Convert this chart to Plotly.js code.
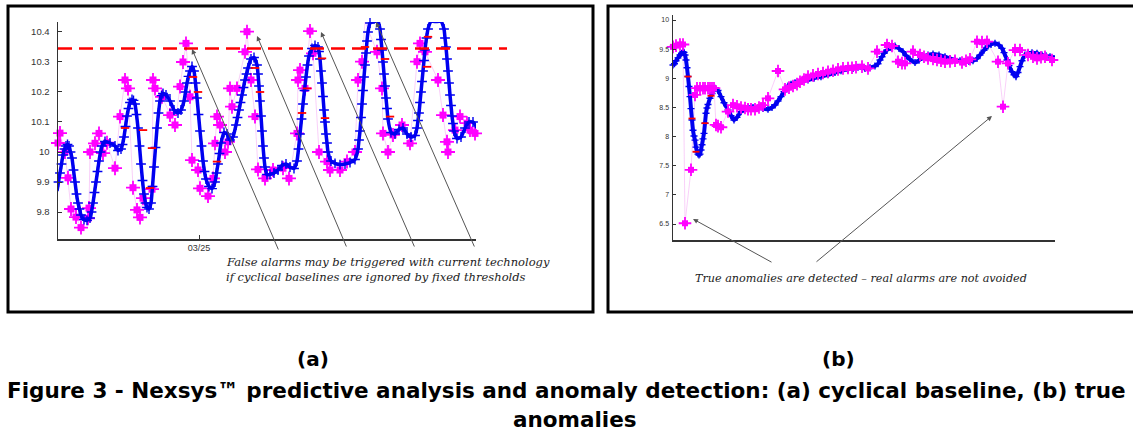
<!DOCTYPE html>
<html>
<head>
<meta charset="utf-8">
<script src="https://cdn.plot.ly/plotly-3.0.1.min.js"></script>
<style>html,body{margin:0;padding:0;background:#fff;}#chart{width:1133px;height:436px;}</style>
</head>
<body>
<div id="chart"></div>
<script>
// ---------- Panel (a): cyclical baseline (sample index ~24 min) ----------
const tA_base = [0,1.5,3,4.5,6,7.5,9,10.5,12,13.5,15,16.5,18,19.5,21,22.5,24,27,30,33,34.5,36,37.5,39,40.5,42,43.5,45,48,53,58,61,64,65.5,67,68.5,70,71.5,73,75,76.5,78,79.5,81,82.5,84,85.5,87,88.5,90,92,94,95.5,97,98.5,100,101.5,103,104.5,106,109,113,117,121,124,127,128.5,130,131.5,133,135,137,138.5,140,141.5,143,144.5,146,147.5,149,152,155,158,159.5,161,162.5,164,167,170,173,176,179,180.5,182,183.5,185,186.5,188,189.5,191,194,197,200,201,202,203,204,205,206,207,208,210,213,217,221,225,229,233,237,240,241.5,243,244.5,246,247.5,249,250.5,252,255,258,261,262,263,264,265,266,267,268,269,270,271,274,278,283,288,293,298,301,302,303,304,305,306,307,308,309,310,311,313,317,321,323,324,325,326,327,328,329,330,331,334,338,342,346,350,354,358,360,361,362,363,364,365,366,367,368,369.5,371,374,379,384,387,388,389,390,391,392,393,394,395,396,397,400,404,408,412,416,420];
const vA_base = [9.87,9.90,9.93,9.96,9.99,10.01,10.02,10.025,10.02,10.0,9.98,9.94,9.90,9.86,9.83,9.81,9.79,9.775,9.772,9.78,9.80,9.83,9.865,9.90,9.935,9.97,10.0,10.02,10.035,10.03,10.02,10.005,10.01,10.025,10.05,10.085,10.12,10.145,10.165,10.175,10.172,10.16,10.125,10.08,10.02,9.96,9.905,9.86,9.83,9.815,9.81,9.83,9.885,9.95,10.015,10.08,10.13,10.17,10.188,10.195,10.19,10.17,10.14,10.13,10.14,10.17,10.20,10.23,10.252,10.27,10.285,10.27,10.23,10.18,10.125,10.07,10.02,9.97,9.935,9.91,9.885,9.878,9.90,9.93,9.96,9.995,10.03,10.065,10.06,10.04,10.05,10.09,10.115,10.14,10.165,10.19,10.215,10.24,10.26,10.28,10.31,10.315,10.29,10.26,10.22,10.17,10.12,10.07,10.02,9.98,9.95,9.925,9.925,9.93,9.94,9.955,9.96,9.95,9.945,9.97,10.01,10.06,10.11,10.16,10.205,10.25,10.29,10.32,10.345,10.355,10.35,10.335,10.31,10.27,10.23,10.185,10.14,10.10,10.06,10.03,10.00,9.97,9.962,9.958,9.96,9.965,9.975,10.01,10.04,10.07,10.115,10.16,10.205,10.25,10.29,10.33,10.37,10.40,10.43,10.435,10.435,10.41,10.375,10.34,10.30,10.26,10.22,10.18,10.145,10.11,10.065,10.06,10.075,10.08,10.06,10.05,10.055,10.08,10.105,10.13,10.165,10.20,10.235,10.27,10.305,10.34,10.38,10.41,10.435,10.435,10.435,10.41,10.38,10.35,10.31,10.27,10.23,10.19,10.155,10.12,10.095,10.07,10.045,10.05,10.08,10.10,10.10,10.08];
const tA_obs = [1,3,8,11,14,19,24,31,32,33,38,42,46,50,58,63,68,71,76,80,83,86,95,96,98,105,113,118,123,126,129,133,135,141,143,151,156,158,160,163,168,171,173,175,180,188,190,194,198,201,208,216,226,232,240,241,243,248,253,256,262,270,273,283,290,298,301,305,308,320,325,326,331,336,345,353,360,363,368,381,386,390,391,398,403,410,413,418];
const vA_obs = [10.03,10.063,10.0,9.914,9.81,9.783,9.748,9.779,9.813,10.0,10.029,10.062,9.996,10.031,9.946,10.118,10.24,10.212,9.881,9.807,9.782,9.846,9.876,10.24,10.212,10.184,10.123,10.09,10.218,10.30,10.362,10.184,9.973,9.94,9.879,9.853,9.912,10.029,10.118,10.09,10.0,10.034,10.212,10.151,10.212,10.334,10.401,10.24,10.118,9.942,9.912,9.94,9.946,9.912,10.062,10.24,10.273,10.212,10.403,10.329,10.0,9.968,9.94,9.94,9.968,10.0,10.24,10.301,10.434,10.334,10.212,10.062,10.0,10.057,10.09,10.029,10.301,10.362,10.334,10.24,10.123,10.034,10.0,10.073,10.118,10.096,10.073,10.062];
const tA_red = [68,86,93,95,136,141,160,198,203,245,250,265,268,308,328,333,370,371,388];
const vA_red = [10.08,10.073,9.88,10.013,10.25,10.20,9.968,10.28,10.20,10.13,10.212,10.312,10.113,10.35,10.31,10.118,10.284,10.384,10.345];
const fixedThreshold = 10.345;
const tickA_vals = [142];
const tickA_text = ['03/25'];
const yA_ticks = [9.8,9.9,10,10.1,10.2,10.3,10.4];
const yA_text = ['9.8','9.9','10','10.1','10.2','10.3','10.4'];

// ---------- Panel (b): true anomalies ----------
const tB_base = [0,1.5,3,5,7,8.5,10,11,12,13,14,15,16,17,18,19,20,21,22,23,24,25,26,27,28,29,30,31,32,33,34,35,37,39,42,45,48,51,55,58,61,64,68,71,75,80,85,90,95,99,102,105,108,111,115,118,122,128,135,141,148,155,162,168,175,180,185,192,197,202,205,207,209,211,214,218,222,226,230,233,237,242,246,250,255,260,266,272,277,282,287,292,296,300,304,307,311,315,318,322,326,329,331,334,336,339,341,343,345,347,349,352,355,359,364,369,373,377,383];
const vB_base = [9.228,9.25,9.30,9.35,9.40,9.43,9.457,9.445,9.40,9.314,9.18,9.03,8.86,8.685,8.48,8.285,8.11,8.01,7.94,7.82,7.74,7.70,7.684,7.70,7.77,7.86,7.96,8.056,8.23,8.40,8.49,8.55,8.657,8.74,8.828,8.79,8.685,8.58,8.456,8.36,8.285,8.33,8.427,8.47,8.50,8.50,8.49,8.48,8.468,8.50,8.542,8.61,8.685,8.77,8.868,8.90,8.925,8.95,8.97,9.0,9.028,9.06,9.10,9.13,9.154,9.17,9.19,9.17,9.18,9.21,9.25,9.314,9.37,9.43,9.485,9.53,9.554,9.51,9.457,9.39,9.326,9.27,9.31,9.37,9.40,9.417,9.40,9.37,9.34,9.314,9.30,9.285,9.29,9.30,9.34,9.40,9.48,9.554,9.58,9.60,9.57,9.514,9.44,9.314,9.22,9.113,9.06,9.028,9.10,9.20,9.30,9.40,9.43,9.44,9.43,9.40,9.385,9.37,9.36];
const tB_obs = [0,3,7,10,12,18,22,24,27,30,32,35,37,39,41,43,45,48,55,60,64,68,72,75,78,82,86,90,95,105,112,116,120,124,127,131,135,140,145,150,155,160,165,170,175,179,183,189,195,204,214,219,225,229,232,240,247,251,255,260,264,268,272,277,282,289,293,297,304,309,314,325,330,335,342,347,355,360,364,368,372,379];
const vB_obs = [9.54,9.56,9.58,9.58,6.513,7.43,8.714,8.83,8.828,8.83,8.83,8.83,8.83,8.83,8.83,8.20,8.18,8.16,8.43,8.54,8.52,8.50,8.49,8.47,8.47,8.47,8.50,8.54,8.657,9.125,8.81,8.84,8.868,8.90,8.94,8.98,9.028,9.05,9.074,9.09,9.113,9.13,9.154,9.17,9.177,9.18,9.19,9.20,9.17,9.457,9.571,9.554,9.285,9.26,9.257,9.457,9.40,9.37,9.342,9.33,9.314,9.30,9.285,9.29,9.30,9.27,9.30,9.326,9.628,9.62,9.628,9.285,8.513,9.257,9.485,9.485,9.40,9.37,9.342,9.36,9.37,9.314];
const tB_red = [15,19,23,32,38];
const vB_red = [9.03,8.31,7.74,8.23,8.70];
const yB_ticks = [6.5,7,7.5,8,8.5,9,9.5,10];
const yB_text = ['6.5','7','7.5','8','8.5','9','9.5','10'];

// ---------- Texts ----------
const noteA1 = 'False alarms may be triggered with current technology';
const noteA2 = 'if cyclical baselines are ignored by fixed thresholds';
const noteB = 'True anomalies are detected \u2013 real alarms are not avoided';
const labelA = '(a)', labelB = '(b)';
const caption1 = 'Figure 3 - Nexsys\u2122 predictive analysis and anomaly detection: (a) cyclical baseline, (b) true';
const caption2 = 'anomalies';

const W = 1133, H = 436;
const px = v => v / W, py = v => 1 - v / H;
const BLUE = '#0000f0', MAG = '#ff00ff', PINK = '#f7c4f7', RED = '#ff0000';

function pinkLine(t, v, xa, ya) {
  return {x: t, y: v, xaxis: xa, yaxis: ya, mode: 'lines', line: {color: PINK, width: 0.8}, hoverinfo: 'skip'};
}
function obsMarkers(t, v, xa, ya, sq, cr) {
  return [
    {x: t, y: v, xaxis: xa, yaxis: ya, mode: 'markers', cliponaxis: false,
     marker: {symbol: 'cross-thin', size: cr, line: {color: MAG, width: 1.8}}},
    {x: t, y: v, xaxis: xa, yaxis: ya, mode: 'markers', cliponaxis: false,
     marker: {symbol: 'square', size: sq, color: MAG}}
  ];
}
function baseTrace(t, v, xa, ya, lw, ms) {
  return {x: t, y: v, xaxis: xa, yaxis: ya, mode: 'lines+markers', cliponaxis: false,
    line: {color: BLUE, width: lw, shape: 'spline', smoothing: 0.5},
    marker: {symbol: 'cross-thin', size: ms, line: {color: BLUE, width: 1.4}}};
}
function redTrace(t, v, xa, ya, s) {
  return {x: t, y: v, xaxis: xa, yaxis: ya, mode: 'markers', cliponaxis: false,
    marker: {symbol: 'line-ew', size: s, line: {color: RED, width: 1.8}}};
}

const data = [
  pinkLine(tA_obs, vA_obs, 'x', 'y'),
  ...obsMarkers(tA_obs, vA_obs, 'x', 'y', 7, 10),
  baseTrace(tA_base, vA_base, 'x', 'y', 3.5, 7),
  redTrace(tA_red, vA_red, 'x', 'y', 6),
  pinkLine(tB_obs, vB_obs, 'x2', 'y2'),
  baseTrace(tB_base, vB_base, 'x2', 'y2', 4, 5),
  redTrace(tB_red, vB_red, 'x2', 'y2', 5),
  ...obsMarkers(tB_obs, vB_obs, 'x2', 'y2', 6, 9)
];

const axisCommon = {showgrid: false, zeroline: false, showline: true, linecolor: '#333', linewidth: 1.5, fixedrange: true};

const arrow = (xr, yr, x, y, ax, ay) => ({xref: xr, yref: yr, axref: xr, ayref: yr, x: x, y: y, ax: ax, ay: ay,
  text: '', showarrow: true, arrowhead: 2, arrowsize: 1, arrowwidth: 1, arrowcolor: '#555', standoff: 0});

const serif = {family: 'DejaVu Serif, Liberation Serif, serif', size: 11.5, color: '#222'};
const bold = {family: 'DejaVu Sans, Liberation Sans, Arial, sans-serif', size: 21.5, color: '#000'};

const layout = {
  width: W, height: H, margin: {l: 0, r: 0, t: 0, b: 0},
  paper_bgcolor: '#fff', plot_bgcolor: 'rgba(0,0,0,0)', showlegend: false,
  xaxis: Object.assign({}, axisCommon, {domain: [px(58), px(476)], range: [1, 419], anchor: 'y',
    ticks: 'inside', ticklen: 4, tickcolor: '#333', tickvals: tickA_vals, ticktext: tickA_text,
    tickfont: {family: 'Liberation Sans, Arial', size: 9, color: '#333'}}),
  yaxis: Object.assign({}, axisCommon, {domain: [py(239), py(22)], range: [9.71, 10.4333], anchor: 'x',
    ticks: 'inside', ticklen: 4, tickcolor: '#333', tickvals: yA_ticks, ticktext: yA_text, ticklabelstandoff: 5,
    tickfont: {family: 'Liberation Sans, Arial', size: 9.5, color: '#333'}}),
  xaxis2: Object.assign({}, axisCommon, {domain: [px(673), px(1055)], range: [0, 382], anchor: 'y2',
    ticks: '', showticklabels: false}),
  yaxis2: Object.assign({}, axisCommon, {domain: [py(240), py(15)], range: [6.226, 10.086], anchor: 'x2',
    ticks: 'inside', ticklen: 3, tickcolor: '#333', tickvals: yB_ticks, ticktext: yB_text, ticklabelstandoff: 1,
    tickfont: {family: 'Liberation Sans, Arial', size: 7, color: '#333'}}),
  shapes: [
    {type: 'rect', xref: 'paper', yref: 'paper', x0: px(8), x1: px(593), y0: py(312), y1: py(6),
     line: {color: '#000', width: 3}, layer: 'below'},
    {type: 'rect', xref: 'paper', yref: 'paper', x0: px(608), x1: px(1145), y0: py(312), y1: py(6),
     line: {color: '#000', width: 3}, layer: 'below'},
    {type: 'line', xref: 'paper', yref: 'y', x0: px(58), x1: px(507), y0: fixedThreshold, y1: fixedThreshold,
     line: {color: '#ff0000', width: 2.5, dash: '14px,7px'}}
  ],
  annotations: [
    arrow('x', 'y', 135, 10.343, 222, 9.67),
    arrow('x', 'y', 200, 10.387, 290, 9.68),
    arrow('x', 'y', 264, 10.40, 358, 9.68),
    arrow('x', 'y', 319, 10.433, 418, 9.68),
    arrow('x2', 'y2', 20, 6.587, 100, 5.832),
    arrow('x2', 'y2', 319, 8.353, 142, 5.832),
    {xref: 'paper', yref: 'paper', x: px(224), y: py(262), xanchor: 'left', yanchor: 'middle', showarrow: false,
     text: '<i>' + noteA1 + '</i>', font: serif},
    {xref: 'paper', yref: 'paper', x: px(224), y: py(277), xanchor: 'left', yanchor: 'middle', showarrow: false,
     text: '<i>' + noteA2 + '</i>', font: serif},
    {xref: 'paper', yref: 'paper', x: px(693), y: py(278), xanchor: 'left', yanchor: 'middle', showarrow: false,
     text: '<i>' + noteB + '</i>', font: Object.assign({}, serif, {size: 11.2})},
    {xref: 'paper', yref: 'paper', x: px(313), y: py(359), xanchor: 'center', yanchor: 'middle', showarrow: false,
     text: '<b>' + labelA + '</b>', font: Object.assign({}, bold, {size: 20})},
    {xref: 'paper', yref: 'paper', x: px(838), y: py(359), xanchor: 'center', yanchor: 'middle', showarrow: false,
     text: '<b>' + labelB + '</b>', font: Object.assign({}, bold, {size: 20})},
    {xref: 'paper', yref: 'paper', x: px(566.5), y: py(390), xanchor: 'center', yanchor: 'middle', showarrow: false,
     text: '<b>' + caption1 + '</b>', font: bold},
    {xref: 'paper', yref: 'paper', x: px(575), y: py(419), xanchor: 'center', yanchor: 'middle', showarrow: false,
     text: '<b>' + caption2 + '</b>', font: bold}
  ]
};

Plotly.newPlot('chart', data, layout, {staticPlot: true, displayModeBar: false});
</script>
</body>
</html>
